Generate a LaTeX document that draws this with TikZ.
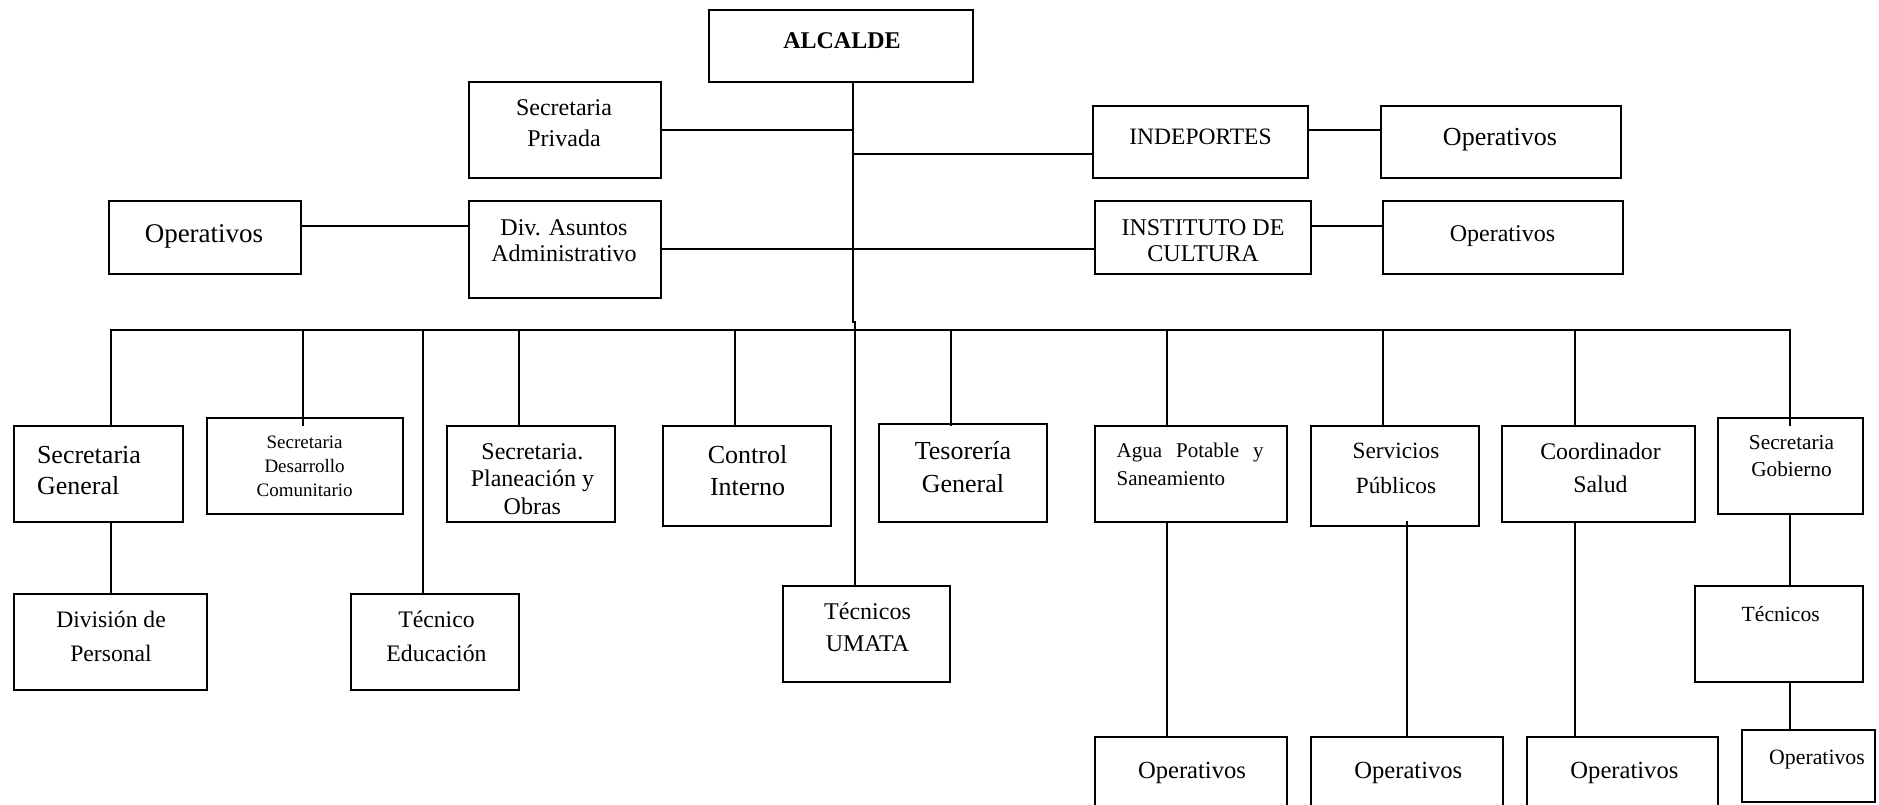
\documentclass[tikz,border=0pt]{standalone}
\usepackage{fontspec}
\setmainfont{Liberation Serif}
\newcommand{\fz}[2]{\fontsize{#1}{#2}\selectfont}
\begin{document}
\begin{tikzpicture}[x=1pt,y=-1pt,
  box/.style={draw=black,line width=2pt,inner sep=0pt,outer sep=0pt,fill=none},
  txt/.style={inner sep=0pt,outer sep=0pt,align=center},
  conn/.style={draw=black,line width=2pt}]
\useasboundingbox (0,0) rectangle (1879,804);
\fill[white] (0,0) rectangle (1879,804);
% box macro: name, x1, y1, x2, y2
\newcommand{\bx}[5]{\node[box,minimum width={#4-#2},minimum height={#5-#3}] (#1) at ({(#2+#4)/2},{(#3+#5)/2}) {};}
% top part
\bx{alc}{709}{10}{973}{82}
\node[txt,font=\fz{24}{30}\bfseries] (alc-t) at (842,41) {ALCALDE};
\bx{priv}{469}{82}{661}{178}
\node[txt,font=\fz{24}{31}] (priv-t) at (564,123) {Secretaria\\Privada};
\bx{indep}{1093}{106}{1308}{178}
\node[txt,font=\fz{23.5}{28}] (indep-t) at (1200.5,136.7) {INDEPORTES};
\bx{opind}{1381}{106}{1621}{178}
\node[txt,font=\fz{26}{30}] (opind-t) at (1500,139.5) {Operativos};
\bx{opl}{109}{201}{301}{274}
\node[txt,font=\fz{27}{30}] (opl-t) at (204,236) {Operativos};
\bx{div}{469}{201}{661}{298}
\node[txt,font=\fz{24}{26}] (div-t) at (564,240.5) {Div. Asuntos\\Administrativo};
\bx{inst}{1095}{201}{1311}{274}
\node[txt,font=\fz{24}{26.6}] (inst-t) at (1203,240.5) {INSTITUTO DE\\CULTURA};
\bx{opinst}{1383}{201}{1623}{274}
\node[txt,font=\fz{24}{28}] (opinst-t) at (1502.5,236) {Operativos};
% bottom row boxes
\bx{sg}{14}{426}{183}{522}
\node[txt,align=left,anchor=west,font=\fz{26}{31.7}] (sg-t) at (37,470.5) {Secretaria\\General};
\bx{sdc}{207}{418}{403}{514}
\node[txt,font=\fz{19}{23.8}] (sdc-t) at (304.6,466) {Secretaria\\Desarrollo\\Comunitario};
\bx{divp}{14}{594}{207}{690}
\node[txt,font=\fz{23.6}{33.3}] (divp-t) at (111,636.5) {División de\\Personal};
\bx{tedu}{351}{594}{519}{690}
\node[txt,font=\fz{23.7}{33.3}] (tedu-t) at (436.5,636.5) {Técnico\\Educación};
\bx{plan}{447}{426}{615}{522}
\node[txt,font=\fz{24}{27.5}] (plan-t) at (532.4,479) {Secretaria.\\Planeación y\\Obras};
\bx{ctrl}{663}{426}{831}{526}
\node[txt,font=\fz{26}{32.4}] (ctrl-t) at (747.6,470.5) {Control\\Interno};
\bx{umata}{783}{586}{950}{682}
\node[txt,font=\fz{24}{32}] (umata-t) at (867.5,627.5) {Técnicos\\UMATA};
\bx{tes}{879}{424}{1047}{522}
\node[txt,font=\fz{26}{32.3}] (tes-t) at (963,467) {Tesorería\\General};
\bx{agua}{1095}{426}{1287}{522}
\node[txt,align=left,anchor=west,font=\fz{21}{27.7}] (agua-t) at (1116.6,464.3) {\makebox[147pt][s]{Agua\hfill Potable\hfill y}\\Saneamiento};
\bx{serv}{1311}{426}{1479}{526}
\node[txt,font=\fz{23.3}{34.3}] (serv-t) at (1396,468.5) {Servicios\\Públicos};
\bx{salud}{1502}{426}{1695}{522}
\node[txt,font=\fz{23.8}{33.3}] (salud-t) at (1600.5,468) {Coordinador\\Salud};
\bx{gob}{1718}{418}{1863}{514}
\node[txt,font=\fz{21.3}{27.6}] (gob-t) at (1791.5,456) {Secretaria\\Gobierno};
\bx{tec}{1695}{586}{1863}{682}
\node[txt,font=\fz{21.6}{26}] (tec-t) at (1780.7,614.5) {Técnicos};
\bx{opagua}{1095}{737}{1287}{830}
\node[txt,font=\fz{24.6}{28}] (opagua-t) at (1192,773) {Operativos};
\bx{opserv}{1311}{737}{1503}{830}
\node[txt,font=\fz{24.6}{28}] (opserv-t) at (1408.3,773) {Operativos};
\bx{opsalud}{1527}{737}{1718}{830}
\node[txt,font=\fz{24.6}{28}] (opsalud-t) at (1624.4,773) {Operativos};
\bx{opgob}{1742}{730}{1875}{802}
\node[txt,font=\fz{21.8}{26}] (opgob-t) at (1817,759.5) {Operativos};
% connectors
\coordinate (j1) at (853,322);
\coordinate (j2) at (855,322);
\coordinate (busl) at (111,330);
\coordinate (busr) at (1790,330);
\draw[conn] (alc.south -| j1) -- (j1) -- (j2) -- (umata.north -| j2);
\draw[conn] (priv.east |- 0,130) -- (j1 |- 0,130);
\draw[conn] (j1 |- 0,154) -- (indep.west |- 0,154);
\draw[conn] (indep.east |- 0,130) -- (opind.west |- 0,130);
\draw[conn] (opl.east |- 0,226) -- (div.west |- 0,226);
\draw[conn] (div.east |- 0,249) -- (inst.west |- 0,249);
\draw[conn] (inst.east |- 0,226) -- (opinst.west |- 0,226);
\draw[conn] (sg.north -| busl) -- (busl) -- (busr) -- (busr |- 0,426);
\draw[conn] (303,330) -- (303,426);
\draw[conn] (423,330) -- (tedu.north -| 423,0);
\draw[conn] (plan.north -| 519,0) -- (519,330);
\draw[conn] (ctrl.north -| 735,0) -- (735,330);
\draw[conn] (951,330) -- (951,426);
\draw[conn] (agua.north -| 1167,0) -- (1167,330);
\draw[conn] (serv.north -| 1383,0) -- (1383,330);
\draw[conn] (salud.north -| 1575,0) -- (1575,330);
% second level
\draw[conn] (sg.south -| busl) -- (divp.north -| busl);
\draw[conn] (agua.south -| 1167,0) -- (opagua.north -| 1167,0);
\draw[conn] (1407,521) -- (opserv.north -| 1407,0);
\draw[conn] (salud.south -| 1575,0) -- (opsalud.north -| 1575,0);
\draw[conn] (gob.south -| busr) -- (tec.north -| busr);
\draw[conn] (tec.south -| busr) -- (opgob.north -| busr);
\end{tikzpicture}
\end{document}
